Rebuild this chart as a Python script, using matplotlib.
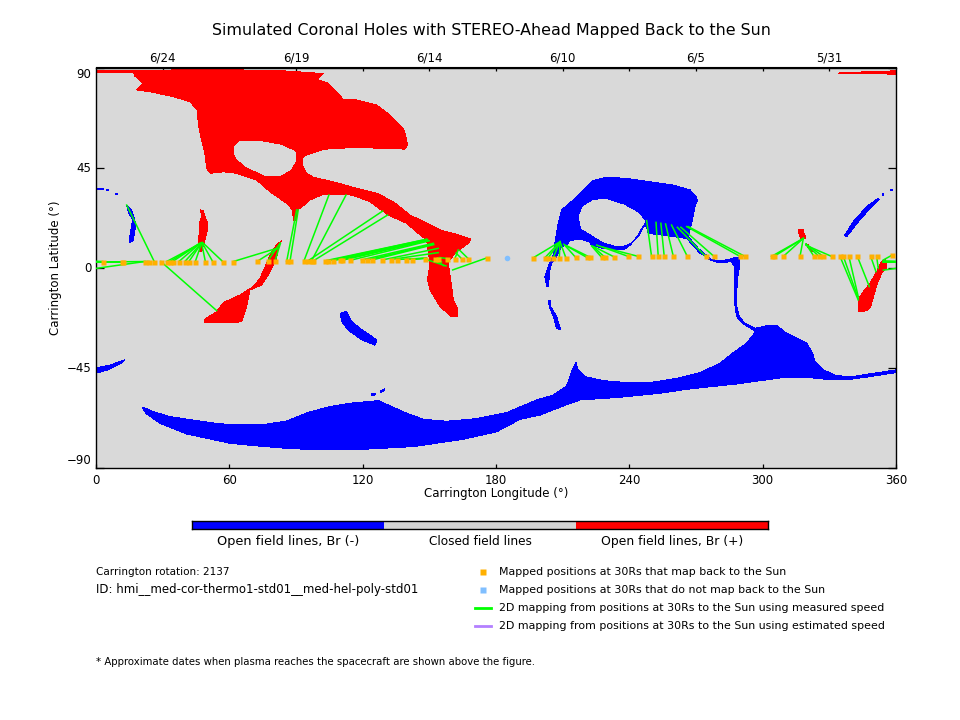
import matplotlib
matplotlib.use('Agg')
import matplotlib.pyplot as plt

plt.rcParams['font.family'] = ['DejaVu Sans']

BG = '#d9d9d9'
BLUE = '#0000ff'
RED = '#ff0000'
GREEN = '#00ff00'
ORANGE = '#ffb000'
SKY = '#80bfff'
PURPLE = '#b380ff'

# coronal hole outlines, (longitude, latitude) in degrees
red_main = [(0, 88.5), (16.8, 88.5), (23.5, 88.6), (34.8, 88.9), (64.8, 88.9), (82.8, 88.6), (93.3, 87.9),
            (102.3, 87.2), (99.3, 84.7), (104.5, 82.9), (109.8, 77.6), (110.8, 75.8), (117.3, 75.4),
            (126.3, 73.1), (132.3, 68.6), (138.3, 62.6), (139, 60.7), (140.2, 55.1), (139, 53.3), (130.8, 53.5),
            (117.3, 54.1), (102.3, 53.2), (94.8, 50.6), (93, 49.6), (92.7, 46.1), (94.8, 42.4), (97.8, 40.6),
            (108.3, 38.2), (115.8, 36), (126.3, 33.4), (133.8, 29.6), (141.3, 23.6), (145.8, 21.4),
            (154.8, 16.9), (162.3, 14.9), (168.7, 12.7), (167.5, 10.9), (161.5, 6.4), (159.3, 3.4), (158.5, 1.9),
            (159.6, -5.6), (160.8, -14.6), (162.6, -18.4), (162.7, -22.1), (160, -22.1), (154.8, -17.6),
            (150.3, -10.1), (149.2, -5.6), (150.3, 1.9), (148.8, 12.4), (145, 15.4), (139.8, 19.9),
            (131.5, 23.6), (123.3, 29.6), (117.3, 31.9), (112.8, 33), (102.3, 33), (96.3, 30.4), (91.8, 26.6),
            (90.6, 25.9), (90.3, 21.1), (88.8, 21.1), (88.5, 25.9), (85.8, 28.9), (78.3, 34.1), (72.3, 39.4),
            (63.3, 42.4), (57.3, 43.1), (51.6, 42.4), (49.8, 44.6), (49, 51.4), (47.5, 57.4), (46, 64.9),
            (45.6, 70.9), (42.3, 74.6), (34.8, 76.9), (24.3, 79.1), (18.3, 79.9), (21, 82.9), (17.5, 86.2),
            (16.8, 87.8), (0, 87.8)]
red_hole = [(62.5, 54.4), (64.8, 56.6), (72.3, 56.9), (82.8, 55.1), (89.5, 52.1), (90, 48.4), (87.3, 43.9),
            (82.8, 41.6), (76.8, 41.2), (67.8, 45.4), (63.3, 49.1), (62.1, 52.1)]
red_corner = [(334, 87.5), (345, 88), (360, 88.5), (360, 87)]
red_strip = [(47.1, 25.9), (48.3, 25.6), (49, 22.9), (50.2, 19.9), (50.1, 16.9), (49, 12.4), (47.5, 7.1),
             (46.5, 7.1), (46.3, 12.4), (46.5, 19.9), (47.5, 22.9)]
red_lower = [(83.5, 12.1), (82, 9.4), (81.3, 4.1), (77.5, -3.4), (74.5, -7.9), (69.3, -10.1), (67.8, -17.6),
             (65.5, -24.4), (61.8, -24.8), (48.6, -24.8), (49, -23.3), (54.3, -19.9), (57.3, -15.8),
             (64.8, -12.4), (70.8, -8.6), (73.8, -4.9), (76.8, 1.9), (79, 7.1), (81.3, 10.1)]
red_patch1 = [(316, 16.9), (318.3, 17.2), (318.6, 15.4), (319.5, 13.1), (317.5, 12.7), (316.5, 14.6)]
red_patch2 = [(319.5, 10.9), (320.5, 10.1), (322.5, 7.1), (320.5, 8.6)]
red_right = [(342.9, -14.6), (345.3, -10.9), (348.3, -7.1), (351.3, -1.9), (353.5, 2.6), (355.3, 3.7),
             (355.8, 0.1), (353.5, -2.6), (351.3, -7.9), (348.6, -17.6), (347.1, -19.4), (343, -19.9)]

blue_south = [(21.3, -62.9), (25.8, -64.9), (33.3, -67.1), (45.3, -68.9), (55.8, -70.4), (75.3, -70.7),
              (85.8, -69.1), (95.5, -65.2), (105.3, -62.6), (114.3, -61.1), (127, -59.9), (130.8, -61.6),
              (139.8, -65.6), (147.3, -68.3), (157.8, -69.2), (171.3, -68), (184.8, -65.3), (198.3, -59.6),
              (205.8, -57.4), (211.8, -53.3), (214, -46.9), (216, -42.7), (216.6, -45.4), (220, -49.1),
              (228.3, -50.9), (238.8, -51.8), (249.3, -51.8), (261.3, -49.9), (271.8, -47.3), (280.8, -43.1),
              (286.8, -38.3), (292.8, -34.1), (296.5, -29.3), (296.5, -27.4), (303.3, -25.9), (306.3, -26.2),
              (310.8, -29.6), (319.8, -34.1), (322.5, -38.6), (323.5, -42.4), (327.3, -46.1), (333.3, -48.7),
              (340.8, -49.1), (349.8, -47.6), (360, -46.1), (360, -47.3), (348.3, -49.1), (339.3, -50.3),
              (328.8, -50.3), (322.8, -49.7), (307.8, -49.7), (288.3, -52.4), (265.8, -54.8), (253.8, -56.6),
              (235.8, -58.4), (217.8, -59.6), (210.3, -62.3), (199.8, -66.4), (190.8, -68.3), (180.3, -73.9),
              (165.3, -77.3), (142.8, -80.6), (120.3, -81.8), (103.8, -82.1), (87.3, -81.5), (69.3, -80),
              (60.3, -79.1), (40.8, -74.9), (28.8, -70.1), (22.8, -65.9), (21, -63.4)]
blue_neck = [(275.5, 4.1), (280, 2.9), (285.3, 3.7), (287.5, 4.6), (289.8, 4.6), (289.5, 0.1), (288.6, -5.6),
             (288.1, -16.9), (289.5, -22.1), (292, -25.1), (296.5, -27.4), (296, -28.2), (291.6, -25.6),
             (288.3, -22.1), (287.5, -16.9), (287.5, -5.6), (287.5, 0.1), (286, 2.6), (280, 2.2), (276.3, 3.4)]
blue_north = [(202.8, -8.6), (202, -4.1), (203.5, 0.4), (205.8, 5.6), (206.5, 10.9), (208, 19.9), (209.5, 25.9),
              (214.8, 30.4), (219.3, 34.9), (223.8, 39.1), (229.8, 40.6), (238.8, 40.1), (249.3, 38.6),
              (259.8, 37.1), (267.3, 34.9), (270, 31.9), (270.6, 30.1), (269.5, 27.4), (268, 19.9), (266.5, 13.9),
              (271, 8.6), (276.3, 4.1), (271.8, 6.4), (265.8, 13.1), (259.8, 13.9), (248.5, 15.4), (247.8, 18.4),
              (246.3, 18.4), (244, 13.9), (240.3, 10.1), (238, 8.3), (234.3, 7.9), (228.3, 8.6), (223, 10.1),
              (222, 11.6), (217.8, 12.8), (213.3, 12.1), (211.8, 10.1), (209.5, 9.4), (207.3, 4.9), (205, 1.9),
              (204.3, -1.1), (203.5, -8.6)]
blue_hole = [(217.5, 22.9), (219.3, 27.4), (223.8, 30.1), (229, 30.7), (237.3, 28.1), (244, 24.4), (247, 20.6),
             (244.8, 17.6), (243.3, 14.6), (240.3, 11.2), (237.3, 10.1), (233.5, 10.1), (228.3, 11.6),
             (222.3, 15.4), (218.5, 17.6)]
blue_tail = [(203.5, -14.9), (204.6, -14.9), (204.6, -17.6), (207.3, -22.1), (209.1, -28.1), (207.3, -27.4),
             (205.8, -22.1), (204.3, -18.4)]
blue_mid = [(109.8, -20.9), (112.5, -19.6), (115.2, -24.5), (119.7, -28.1), (126.4, -32.6), (125.5, -34.9),
            (119.7, -32.6), (113.4, -28.1), (110.7, -24.5)]
blue_sw = [(0, -45.2), (6.3, -43.9), (13, -41.6), (10.8, -43.4), (5.4, -46.1), (0, -47.5)]
blue_left = [(13.8, 28.1), (16, 25.9), (17.5, 21.4), (17.8, 18.4), (16.8, 12.4), (15.3, 11.2), (15, 12.4),
             (16, 18.4), (16.5, 21.4), (14.5, 25.1)]
blue_right = [(337.8, 13.9), (337, 14.6), (340.8, 20.6), (346.8, 27.4), (352, 31.1), (352.5, 30.7), (348.3, 26.6),
              (343, 20.6)]
blue_specks = [[(0.3, 34.9), (3.6, 34.9), (3.6, 35.6), (0.3, 35.6)],
               [(4.5, 34.6), (5.7, 34.6), (5.7, 35.2), (4.5, 35.2)],
               [(8.5, 32.5), (9.7, 32.5), (9.7, 33.4), (8.5, 33.4)],
               [(353.5, 32.3), (354.6, 32.3), (354.6, 33.4), (353.5, 33.4)],
               [(357.3, 34.6), (358.5, 34.6), (358.5, 35.3), (357.3, 35.3)],
               [(124, -56.8), (126, -56.5), (126, -57.3), (124, -57.6)],
               [(128, -55.5), (130, -54.5), (130, -55.3), (128, -56.2)]]

# 30Rs positions that map back, and where each one lands on the Sun
map_lon = [3, 11.6, 12.3, 22, 24, 26.2, 29.2, 31.8, 33.3, 34.5, 37.3, 40, 41.8, 44.7, 49.2, 52.5, 57, 61.8,
           72.6, 77.2, 80.5, 85.8, 87.3, 93.6, 95.4, 97, 97.8, 103, 104.5, 106.5, 109.8, 110.5, 114.3, 119.5,
           122.1, 124.3, 128.8, 132.7, 135.3, 139.3, 142.3, 148, 152.5, 154, 158.1, 161.5, 164.5, 167.5, 175.8,
           196.8, 202, 203.5, 205.8, 208.5, 211.4, 215.8, 220.8, 222.3, 227.5, 229, 233.1, 239.5, 244, 250,
           253, 255.7, 259.8, 266.1, 274.3, 278.1, 289.8, 292, 304, 305.1, 309.3, 316.8, 323.1, 325.3, 327.3,
           331, 334.8, 336.3, 338.8, 342.6, 348.6, 351.3, 358.3]
map_lat = [2.7, 2.7, 2.7, 2.7, 2.7, 2.7, 2.7, 2.7, 2.7, 2.7, 2.7, 2.7, 2.7, 2.7, 2.7, 2.7, 2.7, 2.7,
           2.8, 2.8, 2.8, 2.8, 2.8, 3, 3, 3, 3, 3, 3, 3, 3.2, 3.2, 3.2, 3.4,
           3.4, 3.4, 3.4, 3.6, 3.6, 3.6, 3.6, 3.8, 3.8, 3.8, 4, 4, 4, 4, 4.3,
           4.4, 4.4, 4.4, 4.5, 4.5, 4.5, 4.6, 4.6, 4.6, 4.6, 4.6, 4.8, 5, 5, 5,
           5, 5, 5, 5, 5, 5, 5, 5, 5, 5, 5, 5, 5, 5, 5,
           5, 5, 5, 5, 5, 5, 5, 5.6]
foot_lon = [-5.7, -6, -6, -5.7, -5.7, 13.8, 54.3, 46.5, 46.5, 47, 47, 47.5, 47.5, 47.5, 47.5, 47.7, 48, 81.3,
            81.8, 82.8, 83, 90.3, 91, 104.8, 129, 112.5, 131.2, 148.8, 148.8, 149, 149, 149.5, 150, 151.8,
            151.8, 152, 154, 154, 148.8, 148.5, 148.5, 157.5, 156.5, 155.5, 154.5, 163, 162, 163.8, 160.5,
            208.8, 208.8, 208.8, 208.8, 208.8, 208.8, 210.5, 211, 211.8, 223, 223.5, 224, 225.3, 228.3, 247.8,
            252, 254.2, 256.3, 259, 261.6, 263.2, 265.8, 266.5, 318.3, 318.3, 318.3, 318.3, 319.5, 319.5, 319.5,
            319.5, 343, 343, 343, 348, 351, 352, 354.3]
foot_lat = [3, 2.7, 2.7, -1.2, 2.4, 28.1, -19.4, 10.5, 10.8, 11, 11, 11, 11, 11, 11.2, 11.2, 11.2, 8.6,
            8.6, 10.9, 10.9, 25.9, 25.9, 32.6, 25.4, 32.6, 23.6, 12.7, 12.7, 12.5, 12.4, 12.2, 12, 10.9,
            10.5, 10.3, 8.6, 6.7, 4.2, 4.2, 4.2, 0.7, 0.8, 2.5, 4.5, 7.9, 6.5, 7.6, -1.1,
            11.6, 11.6, 11.6, 11.6, 11.6, 11.6, 10.5, 10.1, 9.8, 9.7, 9.6, 9.4, 10.1, 9.1, 21.1,
            20.3, 19.9, 19.6, 19.1, 18.1, 18.1, 18.4, 18.4, 13.1, 13.1, 13.1, 13.1, 10.5, 10.5, 10.5,
            10, -14.6, -13.9, -13.1, -8.6, -1.9, -0.4, 3.4]

# 30Rs position with no mapping
free_lon = [185.1]
free_lat = [4.4]

lon_ticks = [0, 60, 120, 180, 240, 300, 360]
lat_ticks = [-90, -45, 0, 45, 90]
date_ticks = [30, 60, 90, 120, 150, 180, 210, 240, 270, 300, 330]
date_labels = ['6/24', '', '6/19', '', '6/14', '', '6/10', '', '6/5', '', '5/31']


def fill_holes(ax, shapes, color, z=2):
    for shape in shapes:
        xs, ys = zip(*shape)
        ax.fill(xs, ys, color=color, lw=0, zorder=z, antialiased=False)


fig = plt.figure(figsize=(9.6, 7.2), dpi=100)
ax = fig.add_axes([96 / 960, 1 - 467.5 / 720, 800 / 960, 400 / 720])
ax.set_facecolor(BG)
ax.set_xlim(0, 360)
ax.set_ylim(-90, 90)

fill_holes(ax, [red_main, red_corner, red_strip, red_lower, red_patch1, red_patch2, red_right], RED)
fill_holes(ax, [blue_south, blue_neck, blue_north, blue_tail, blue_mid, blue_sw, blue_left, blue_right],
           BLUE)
fill_holes(ax, blue_specks, BLUE)
fill_holes(ax, [red_hole, blue_hole], BG, z=3)

for lon, lat, flon, flat in zip(map_lon, map_lat, foot_lon, foot_lat):
    # lines that cross the 0/360 seam come back on the other side
    ax.plot([lon, flon], [lat, flat], color=GREEN, lw=1.1, zorder=4)
    ax.plot([lon + 360, flon + 360], [lat, flat], color=GREEN, lw=1.1, zorder=4)

ax.plot(map_lon, map_lat, ls='', marker='s', ms=3.6, mec='none', color=ORANGE, zorder=5)
ax.plot(free_lon, free_lat, ls='', marker='o', ms=4, mec='none', color=SKY, zorder=5)

for spine in ax.spines.values():
    spine.set_linewidth(1.0)

ax.set_xticks(lon_ticks)
ax.set_yticks(lat_ticks)
ax.tick_params(axis='x', direction='in', length=3, width=0.9, labelsize=8.5, pad=5)
ax.tick_params(axis='y', direction='in', length=6, width=0.9, labelsize=8.5, pad=3.5, right=True)
ax.set_xlabel('Carrington Longitude (°)', fontsize=8.5, labelpad=0)
ax.set_ylabel('Carrington Latitude (°)', fontsize=8.5, labelpad=3.5)

# end labels sit inside the axis range in the original
ylabels = ax.get_yticklabels()
ylabels[0].set_va('bottom')
ylabels[-1].set_va('top')

top = ax.secondary_xaxis('top')
top.set_xticks(date_ticks)
top.set_xticklabels(date_labels)
top.tick_params(direction='in', length=3, width=0.9, labelsize=8.5, pad=2.5)

fig.text(491 / 960, 1 - 31 / 720, 'Simulated Coronal Holes with STEREO-Ahead Mapped Back to the Sun',
         fontsize=11.4, ha='center', va='center')

# colour key under the map
key = fig.add_axes([192 / 960, 1 - 528.7 / 720, 576 / 960, 7.4 / 720])
key.barh([0, 0, 0], [1, 1, 1], left=[0, 1, 2], height=1, color=[BLUE, '#d4d4d4', RED])
key.set_xlim(0, 3)
key.set_ylim(-0.5, 0.5)
key.set_xticks([])
key.set_yticks([])
for spine in key.spines.values():
    spine.set_linewidth(1.0)

key_labels = ['Open field lines, Br (-)', 'Closed field lines', 'Open field lines, Br (+)']
for x, label, size in zip([288, 480, 672], key_labels, [9.3, 8.7, 8.9]):
    fig.text(x / 960, 1 - 545 / 720, label, fontsize=size, ha='center', va='baseline')

fig.text(96 / 960, 1 - 572 / 720, 'Carrington rotation: 2137', fontsize=7.5, va='center')
fig.text(96 / 960, 1 - 590 / 720, 'ID: hmi__med-cor-thermo1-std01__med-hel-poly-std01', fontsize=8.45, va='center')
fig.text(96 / 960, 1 - 662 / 720, '* Approximate dates when plasma reaches the spacecraft are shown above the figure.',
         fontsize=7.28, va='center')

legend = fig.add_axes([0, 0, 1, 1])
legend.set_axis_off()
legend.set_xlim(0, 960)
legend.set_ylim(720, 0)
legend.plot([483], [572], 's', ms=4.5, mec='none', color=ORANGE)
legend.plot([483], [590], 's', ms=4.5, mec='none', color=SKY)
legend.plot([475, 491], [608, 608], color=GREEN, lw=2)
legend.plot([475, 491], [626, 626], color=PURPLE, lw=2)

legend_labels = ['Mapped positions at 30Rs that map back to the Sun',
                 'Mapped positions at 30Rs that do not map back to the Sun',
                 '2D mapping from positions at 30Rs to the Sun using measured speed',
                 '2D mapping from positions at 30Rs to the Sun using estimated speed']
for y, label in zip([572, 590, 608, 626], legend_labels):
    fig.text(499 / 960, 1 - y / 720, label, fontsize=7.9, va='center')

fig.savefig('out.png', dpi=100)
